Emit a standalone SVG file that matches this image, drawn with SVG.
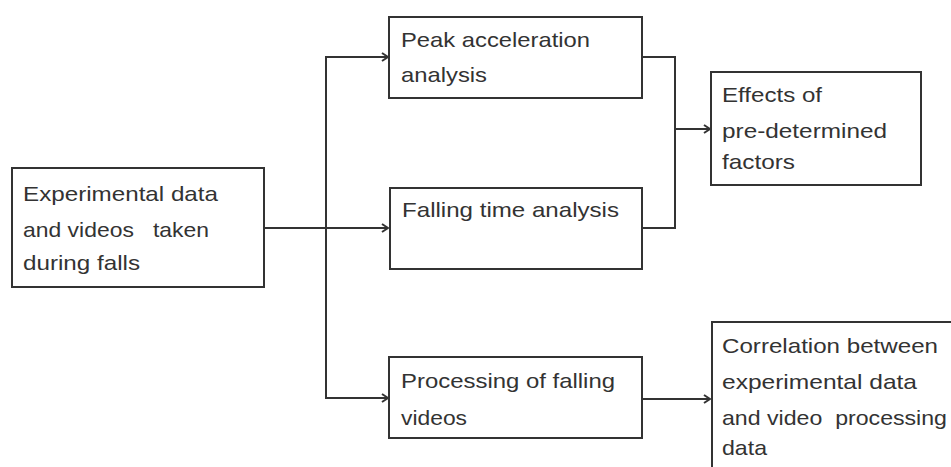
<svg xmlns="http://www.w3.org/2000/svg" width="951" height="467" viewBox="0 0 951 467">
<style>
.box{fill:#fff;stroke:#333;stroke-width:2}
.t{font-family:"Liberation Sans",Arial,sans-serif;font-size:21px;fill:#333}
.c{fill:none;stroke:#333;stroke-width:2}
</style>
<defs>
<marker id="ah" markerWidth="10" markerHeight="10" refX="9" refY="5" orient="auto" markerUnits="userSpaceOnUse">
<polyline points="3,1 9,5 3,9" fill="none" stroke="#333" stroke-width="2"/>
</marker>
</defs>
<rect width="951" height="467" fill="#fff"/>
<g id="connectors">
<path class="c" d="M264,228 H388" marker-end="url(#ah)"/>
<path class="c" d="M326,228 V57 H388" marker-end="url(#ah)"/>
<path class="c" d="M326,228 V398 H388" marker-end="url(#ah)"/>
<path class="c" d="M642,57 H675 V228 H642"/>
<path class="c" d="M675,129 H710" marker-end="url(#ah)"/>
<path class="c" d="M642,399 H710" marker-end="url(#ah)"/>
</g>
<g id="source">
<rect class="box" x="12" y="168" width="252" height="119"/>
<text class="t" x="23" y="201" textLength="195" lengthAdjust="spacingAndGlyphs">Experimental data</text>
<text class="t" x="23" y="237" textLength="186" lengthAdjust="spacingAndGlyphs" xml:space="preserve">and videos   taken</text>
<text class="t" x="23" y="270" textLength="117" lengthAdjust="spacingAndGlyphs">during falls</text>
</g>
<g id="peak">
<rect class="box" x="389" y="17" width="253" height="81"/>
<text class="t" x="401" y="47" textLength="189" lengthAdjust="spacingAndGlyphs">Peak acceleration</text>
<text class="t" x="401" y="82" textLength="86" lengthAdjust="spacingAndGlyphs">analysis</text>
</g>
<g id="falling">
<rect class="box" x="390" y="188" width="252" height="81"/>
<text class="t" x="402" y="217" textLength="217" lengthAdjust="spacingAndGlyphs">Falling time analysis</text>
</g>
<g id="processing">
<rect class="box" x="389" y="357" width="253" height="81"/>
<text class="t" x="401" y="388" textLength="214" lengthAdjust="spacingAndGlyphs">Processing of falling</text>
<text class="t" x="401" y="425" textLength="66" lengthAdjust="spacingAndGlyphs">videos</text>
</g>
<g id="effects">
<rect class="box" x="711" y="72" width="210" height="113"/>
<text class="t" x="722" y="102" textLength="100" lengthAdjust="spacingAndGlyphs">Effects of</text>
<text class="t" x="722" y="138" textLength="165" lengthAdjust="spacingAndGlyphs">pre-determined</text>
<text class="t" x="722" y="169" textLength="73" lengthAdjust="spacingAndGlyphs">factors</text>
</g>
<g id="correlation">
<rect class="box" x="712" y="322" width="260" height="170"/>
<text class="t" x="722" y="353" textLength="216" lengthAdjust="spacingAndGlyphs">Correlation between</text>
<text class="t" x="722" y="389" textLength="195" lengthAdjust="spacingAndGlyphs">experimental data</text>
<text class="t" x="722" y="425" textLength="225" lengthAdjust="spacingAndGlyphs" xml:space="preserve">and video  processing</text>
<text class="t" x="722" y="455" textLength="45" lengthAdjust="spacingAndGlyphs">data</text>
</g>
</svg>
